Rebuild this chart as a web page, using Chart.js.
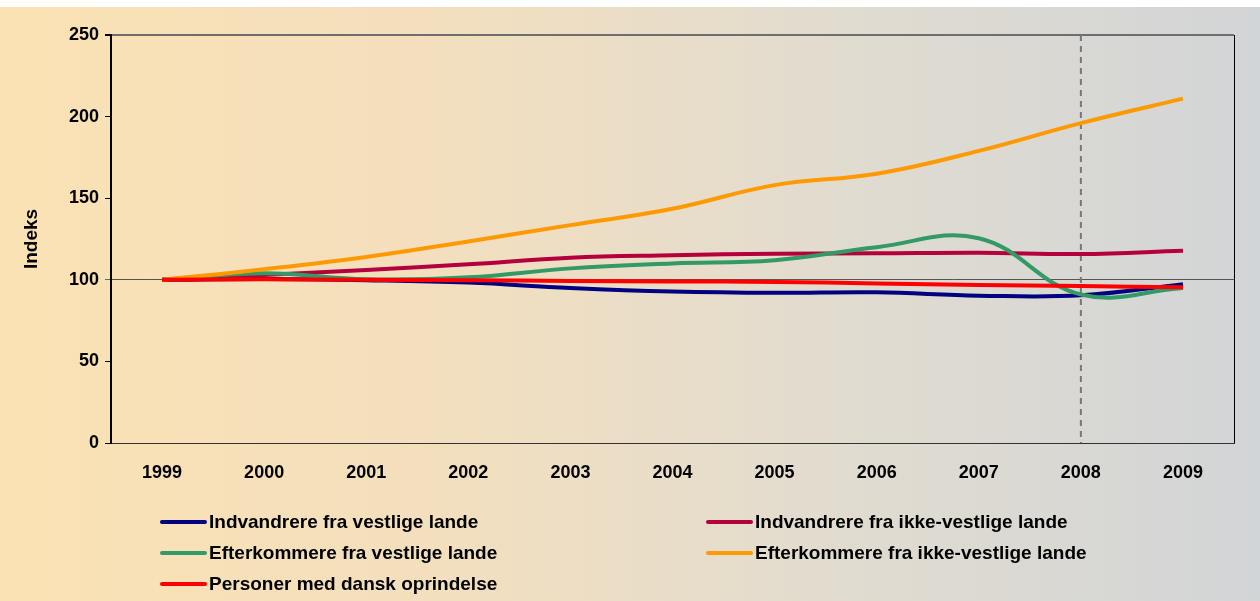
<!DOCTYPE html>
<html>
<head>
<meta charset="utf-8">
<script src="https://cdn.jsdelivr.net/npm/chart.js@4.4.1/dist/chart.umd.min.js"></script>
<style>
  html, body { margin: 0; padding: 0; background: #fff; }
  #wrap {
    position: absolute; left: 0; top: 7px; width: 1260px; height: 594px;
    background: linear-gradient(to right, #fbe2b4 0%, #f3dfbe 35%, #e2dccf 65%, #d2d5d7 100%);
  }
  #chartBox { position: absolute; left: 0; top: 0; width: 1260px; height: 601px; }
  .legend { position: absolute; font: bold 19px "Liberation Sans", Arial, sans-serif; color: #000; white-space: nowrap; line-height: 22px; }
  .legend span.sw { display: inline-block; width: 47px; height: 4px; border-radius: 2px; vertical-align: middle; margin-right: 2px; position: relative; top: -1px; }
</style>
</head>
<body>
<div id="wrap"></div>
<div id="chartBox"><canvas id="lineChart"></canvas></div>
<div id="legendBox"></div>
<script>
// Kategorien und Werte (Index 1999 = 100)
var years = ['1999', '2000', '2001', '2002', '2003', '2004', '2005', '2006', '2007', '2008', '2009'];
var seriesNames = [
    'Indvandrere fra vestlige lande',
    'Indvandrere fra ikke-vestlige lande',
    'Efterkommere fra vestlige lande',
    'Efterkommere fra ikke-vestlige lande',
    'Personer med dansk oprindelse'
];
var seriesColors = ['#000080', '#b4003c', '#339966', '#ff9900', '#ff0000'];

var indvVestlige    = [100, 100.5, 99.8, 98.3, 95, 92.8, 92, 92.3, 90.3, 90.5, 97.3];
var indvIkkeVest    = [100, 103, 106, 109.5, 113.5, 115, 116, 116.2, 116.6, 115.8, 117.8];
var eftVestlige     = [100, 104, 100.3, 101.5, 107, 110, 112, 120, 125.5, 91, 95];
var eftIkkeVest     = [100, 106.5, 114, 123.5, 133.5, 143.5, 158, 165, 179, 196, 211];
var danskOprindelse = [100, 100.3, 100, 99.8, 99.2, 99, 98.7, 97.8, 96.8, 96.2, 95.4];

var yTicks = [0, 50, 100, 150, 200, 250];
var markYear = '2008';

var allSeries = [indvVestlige, indvIkkeVest, eftVestlige, eftIkkeVest, danskOprindelse];

var ctx = document.getElementById('lineChart').getContext('2d');

// Rahmen rechts und gestrichelte Linie bei 2008
var extraLines = {
    id: 'extraLines',
    beforeDatasetsDraw: function (chart) {
        var a = chart.chartArea;
        var c = chart.ctx;
        var x = chart.scales.x.getPixelForValue(years.indexOf(markYear));
        c.save();
        c.strokeStyle = '#777';
        c.lineWidth = 2;
        c.setLineDash([6, 5]);
        c.beginPath();
        c.moveTo(x, a.top);
        c.lineTo(x, a.bottom);
        c.stroke();
        c.setLineDash([]);
        c.strokeStyle = '#000';
        c.lineWidth = 1;
        c.beginPath();
        c.moveTo(a.right + 0.5, a.top);
        c.lineTo(a.right + 0.5, a.bottom);
        c.stroke();
        c.restore();
    }
};

var myChart = new Chart(ctx, {
    type: 'line',
    data: {
        labels: years,
        datasets: allSeries.map(function (values, i) {
            return {
                label: seriesNames[i],
                data: values,
                borderColor: seriesColors[i],
                backgroundColor: seriesColors[i],
                borderWidth: 4,
                pointRadius: 0,
                tension: 0.4,
                fill: false,
                order: allSeries.length - i
            };
        })
    },
    options: {
        responsive: true,
        maintainAspectRatio: false,
        animation: false,
        layout: { padding: { top: 35, right: 26, left: 0, bottom: 0 } },
        plugins: { legend: { display: false }, tooltip: { enabled: false } },
        scales: {
            x: {
                offset: true,
                afterFit: function (scale) { scale.height = 158; },
                grid: { display: false, drawTicks: false },
                border: { display: true, color: '#333', width: 1 },
                ticks: {
                    padding: 19,
                    color: '#000',
                    font: { family: 'Liberation Sans, Arial, sans-serif', size: 18, weight: 'bold' }
                }
            },
            y: {
                min: 0,
                max: 250,
                afterFit: function (scale) { scale.width = 111; },
                afterBuildTicks: function (scale) {
                    scale.ticks = yTicks.map(function (v) { return { value: v }; });
                },
                border: { display: true, color: '#000', width: 2 },
                grid: {
                    drawOnChartArea: true,
                    tickLength: 6,
                    tickColor: function (c) { return c.tick && c.tick.value === 100 ? '#666' : '#000'; },
                    color: function (c) {
                        if (!c.tick) return 'rgba(0,0,0,0)';
                        if (c.tick.value === 100) return '#555';
                        if (c.tick.value === 250) return '#6e6e6e';
                        return 'rgba(0,0,0,0)';
                    },
                    lineWidth: function (c) { return c.tick && c.tick.value === 250 ? 2 : 1; }
                },
                ticks: {
                    padding: 6,
                    color: '#000',
                    font: { family: 'Liberation Sans, Arial, sans-serif', size: 18, weight: 'bold' }
                },
                title: {
                    display: true,
                    text: 'Indeks',
                    color: '#000',
                    padding: { top: 20, bottom: 0 },
                    font: { family: 'Liberation Sans, Arial, sans-serif', size: 19, weight: 'bold' }
                }
            }
        }
    },
    plugins: [extraLines]
});

// Legende in zwei Spalten
var legendPos = [[160, 511], [706, 511], [160, 542], [706, 542], [160, 573]];
var legendBox = document.getElementById('legendBox');
seriesNames.forEach(function (name, i) {
    var d = document.createElement('div');
    d.className = 'legend';
    d.style.left = legendPos[i][0] + 'px';
    d.style.top = legendPos[i][1] + 'px';
    d.innerHTML = '<span class="sw" style="background:' + seriesColors[i] + '"></span>' + name;
    legendBox.appendChild(d);
});
</script>
</body>
</html>
